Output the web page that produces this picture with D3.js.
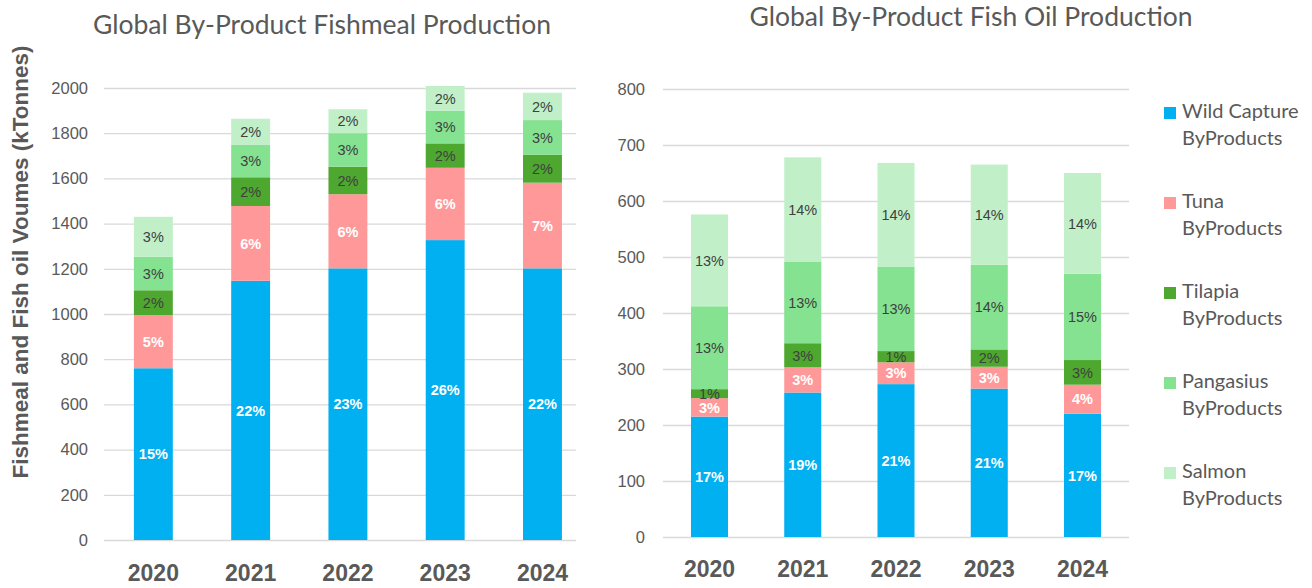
<!DOCTYPE html>
<html>
<head>
<meta charset="utf-8">
<script src="https://cdn.jsdelivr.net/npm/d3@7/dist/d3.min.js"></script>
<style>
  html, body { margin: 0; padding: 0; background: #ffffff; }
  svg { display: block; }
</style>
</head>
<body>
<svg id="chart" width="1312" height="588"></svg>
<script>
// Production years (category axis of both panels)
const years = ["2020", "2021", "2022", "2023", "2024"];

// By-product sources, bottom to top of each stack
const seriesKeys = ["wild", "tuna", "tilapia", "pangasius", "salmon"];
const seriesNames = [
  ["Wild Capture", "ByProducts"],
  ["Tuna", "ByProducts"],
  ["Tilapia", "ByProducts"],
  ["Pangasius", "ByProducts"],
  ["Salmon", "ByProducts"]
];
const seriesColors = ["#00B0F0", "#FF9999", "#4EA72E", "#84E291", "#C1F0C8"];
const labelColors = ["#ffffff", "#ffffff", "#404040", "#404040", "#404040"];

// Fishmeal volumes (kTonnes)
const mealWild      = [760, 1147, 1202, 1327, 1202];
const mealTuna      = [235,  331,  328,  320,  379];
const mealTilapia   = [110,  127,  122,  108,  124];
const mealPangasius = [148,  143,  148,  145,  153];
const mealSalmon    = [177,  116,  106,  109,  121];

// Fishmeal share labels
const mealShareWild      = ["15%", "22%", "23%", "26%", "22%"];
const mealShareTuna      = ["5%", "6%", "6%", "6%", "7%"];
const mealShareTilapia   = ["2%", "2%", "2%", "2%", "2%"];
const mealSharePangasius = ["3%", "3%", "3%", "3%", "3%"];
const mealShareSalmon    = ["3%", "2%", "2%", "2%", "2%"];

// Fish oil volumes (kTonnes)
const oilWild      = [215, 258, 273, 265, 220];
const oilTuna      = [ 33,  45,  39,  39,  52];
const oilTilapia   = [ 16,  43,  20,  31,  44];
const oilPangasius = [148, 146, 151, 151, 154];
const oilSalmon    = [164, 186, 185, 179, 180];

// Fish oil share labels
const oilShareWild      = ["17%", "19%", "21%", "21%", "17%"];
const oilShareTuna      = ["3%", "3%", "3%", "3%", "4%"];
const oilShareTilapia   = ["1%", "3%", "1%", "2%", "3%"];
const oilSharePangasius = ["13%", "13%", "13%", "14%", "15%"];
const oilShareSalmon    = ["13%", "14%", "14%", "14%", "14%"];

// Axis ticks
const mealTicks = [0, 200, 400, 600, 800, 1000, 1200, 1400, 1600, 1800, 2000];
const oilTicks = [0, 100, 200, 300, 400, 500, 600, 700, 800];

const svg = d3.select("#chart");
const GRID = "#D9D9D9";
const AXIS_TEXT = "#595959";
const TITLE_FONT = "Lato, 'Open Sans', sans-serif";
const NUM_FONT = "'Liberation Sans', Arial, sans-serif";

function buildRows(cols, shares) {
  return years.map((yr, i) => {
    const row = { year: yr };
    seriesKeys.forEach((k, j) => {
      row[k] = cols[j][i];
      row[k + "_label"] = shares[j][i];
    });
    return row;
  });
}

function drawPanel(opt) {
  const rows = buildRows(opt.cols, opt.shares);
  const g = svg.append("g");

  const x = d3.scaleBand()
    .domain(years)
    .range([opt.x0, opt.x1])
    .paddingInner(opt.padIn)
    .paddingOuter(opt.padOut)
    .align(opt.align);

  const y = d3.scaleLinear().domain(opt.domain).range([opt.yBottom, opt.yTop]);

  // value axis with horizontal gridlines
  const yAxis = g.append("g")
    .attr("transform", `translate(${opt.x0},0)`)
    .call(d3.axisLeft(y)
      .tickValues(opt.ticks)
      .tickSize(-(opt.x1 - opt.x0))
      .tickPadding(opt.tickPad)
      .tickFormat(d3.format("d")));
  yAxis.select(".domain").remove();
  yAxis.selectAll("line").attr("stroke", GRID).attr("stroke-width", 1.3);
  yAxis.selectAll("text")
    .attr("fill", AXIS_TEXT)
    .style("font-family", NUM_FONT)
    .style("font-size", "16.5px");

  // stacked bars
  const stack = d3.stack().keys(seriesKeys)(rows);
  const layers = g.append("g").selectAll("g")
    .data(stack)
    .join("g")
    .attr("fill", (d, i) => seriesColors[i]);
  layers.selectAll("rect")
    .data(d => d)
    .join("rect")
    .attr("x", d => x(d.data.year))
    .attr("width", x.bandwidth())
    .attr("y", d => y(d[1]))
    .attr("height", d => y(d[0]) - y(d[1]));

  // segment labels
  const labelLayers = g.append("g").selectAll("g")
    .data(stack)
    .join("g")
    .attr("fill", (d, i) => labelColors[i])
    .style("font-weight", (d, i) => i < 2 ? "bold" : "normal");
  labelLayers.selectAll("text")
    .data(d => d.map(p => ({ p, key: d.key })))
    .join("text")
    .attr("x", d => x(d.p.data.year) + x.bandwidth() / 2)
    .attr("y", d => (y(d.p[0]) + y(d.p[1])) / 2)
    .attr("dy", "0.36em")
    .attr("text-anchor", "middle")
    .style("font-family", NUM_FONT)
    .style("font-size", "14.5px")
    .text(d => d.p.data[d.key + "_label"]);

  // category axis
  const xAxis = g.append("g")
    .attr("transform", `translate(0,${opt.yBottom})`)
    .call(d3.axisBottom(x).tickSize(0).tickPadding(opt.xPad));
  xAxis.select(".domain").remove();
  xAxis.selectAll("text")
    .attr("fill", AXIS_TEXT)
    .style("font-family", NUM_FONT)
    .style("font-size", "23px")
    .style("font-weight", "bold");

  // panel title
  g.append("text")
    .attr("x", opt.titleX)
    .attr("y", opt.titleY)
    .attr("text-anchor", "middle")
    .attr("fill", AXIS_TEXT)
    .style("font-family", TITLE_FONT)
    .style("font-size", "26.5px")
    .text(opt.title);
}

drawPanel({
  title: "Global By-Product Fishmeal Production",
  titleX: 322, titleY: 34,
  cols: [mealWild, mealTuna, mealTilapia, mealPangasius, mealSalmon],
  shares: [mealShareWild, mealShareTuna, mealShareTilapia, mealSharePangasius, mealShareSalmon],
  domain: [0, 2000], ticks: mealTicks,
  x0: 104, x1: 576, padIn: 0.6, padOut: 0.226, align: 0.68,
  yBottom: 540, yTop: 88, tickPad: 16, xPad: 25
});

drawPanel({
  title: "Global By-Product Fish Oil Production",
  titleX: 971, titleY: 26,
  cols: [oilWild, oilTuna, oilTilapia, oilPangasius, oilSalmon],
  shares: [oilShareWild, oilShareTuna, oilShareTilapia, oilSharePangasius, oilShareSalmon],
  domain: [0, 800], ticks: oilTicks,
  x0: 663, x1: 1129, padIn: 0.603, padOut: 0.3, align: 0.5,
  yBottom: 537, yTop: 89, tickPad: 18, xPad: 24
});

// shared value-axis title
svg.append("text")
  .attr("transform", "translate(28,262) rotate(-90)")
  .attr("text-anchor", "middle")
  .attr("fill", AXIS_TEXT)
  .style("font-family", NUM_FONT)
  .style("font-size", "22.5px")
  .style("font-weight", "bold")
  .text("Fishmeal and Fish oil Voumes (kTonnes)");

// legend
const legend = svg.append("g").attr("transform", "translate(1164,0)");
const entries = legend.selectAll("g")
  .data(seriesNames)
  .join("g")
  .attr("transform", (d, i) => `translate(0,${118 + i * 90})`);
entries.append("rect")
  .attr("x", 0).attr("y", -11)
  .attr("width", 12).attr("height", 12)
  .attr("fill", (d, i) => seriesColors[i]);
entries.append("text")
  .attr("fill", AXIS_TEXT)
  .style("font-family", TITLE_FONT)
  .style("font-size", "20px")
  .selectAll("tspan")
  .data(d => d)
  .join("tspan")
  .attr("x", 18)
  .attr("y", (d, i) => i * 27)
  .text(d => d);
</script>
</body>
</html>
